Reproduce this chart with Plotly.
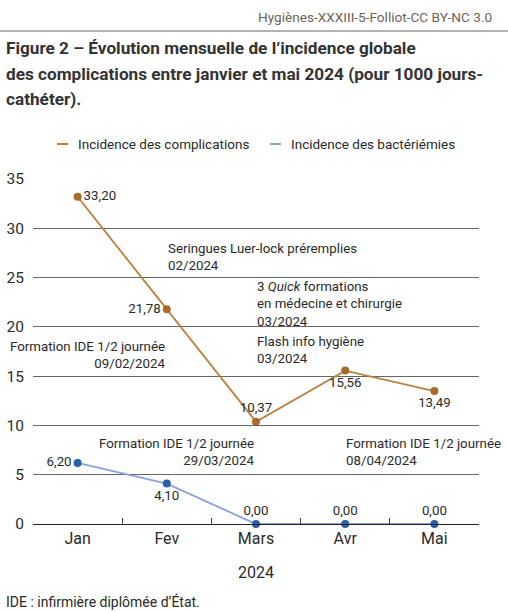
import plotly.graph_objects as go

months = ["Jan", "Fev", "Mars", "Avr", "Mai"]
complications = [33.20, 21.78, 10.37, 15.56, 13.49]
bacteriemies = [6.20, 4.10, 0.00, 0.00, 0.00]
y_ticks = [0, 5, 10, 15, 20, 25, 30, 35]
series_names = ["Incidence des complications", "Incidence des bactériémies"]

def fmt(v):
    return f"{v:.2f}".replace(".", ",")

FONT = "Roboto"
W = 400
TXT = "#2a2a2a"
ORANGE_LINE = "#b98040"
ORANGE_MK = "#a8692a"
BLUE_LINE = "#8aa3dc"
BLUE_MK = "#2a5daa"

def f(size, color=TXT, weight=W):
    return dict(family=FONT, size=size, color=color, weight=weight)

fig = go.Figure()
fig.add_trace(go.Scatter(
    x=months, y=complications, mode="lines+markers+text",
    name=series_names[0], showlegend=False,
    line=dict(color=ORANGE_LINE, width=1.8),
    marker=dict(color=ORANGE_MK, size=8),
    text=[fmt(v) for v in complications],
    textposition=["middle right", "middle left", "top center", "bottom center", "bottom center"],
    textfont=f(13.3),
    cliponaxis=False,
))
fig.add_trace(go.Scatter(
    x=months, y=bacteriemies, mode="lines+markers+text",
    name=series_names[1], showlegend=False,
    line=dict(color=BLUE_LINE, width=1.8),
    marker=dict(color=BLUE_MK, size=8),
    text=[fmt(v) for v in bacteriemies],
    textposition=["middle left", "bottom center", "top center", "top center", "top center"],
    textfont=f(13.3),
    cliponaxis=False,
))

events = [
    dict(x=1, y=28.8, text="Seringues Luer-lock préremplies<br>02/2024", xanchor="left", align="left"),
    dict(x=2, y=24.96, text="3 <i>Quick</i> formations<br>en médecine et chirurgie<br>03/2024", xanchor="left", align="left"),
    dict(x=2, y=19.33, text="Flash info hygiène<br>03/2024", xanchor="left", align="left"),
    dict(x=1, y=18.92, text="Formation IDE 1/2 journée<br>09/02/2024", xanchor="right", align="right"),
    dict(x=2, y=9.08, text="Formation IDE 1/2 journée<br>29/03/2024", xanchor="right", align="right"),
    dict(x=3, y=9.08, text="Formation IDE 1/2 journée<br>08/04/2024", xanchor="left", align="left"),
]
for e in events:
    fig.add_annotation(x=e["x"], y=e["y"], xref="x", yref="y", text=e["text"],
                       xanchor=e["xanchor"], yanchor="top", align=e["align"],
                       showarrow=False, font=f(13.3), borderpad=0)

# Header, title, legend, footer (paper coords; plot area 33..479 px wide, 179..524 px tall)
def px_x(px):
    return (px - 33) / 446

def px_y(py):
    return (524 - py) / 345

fig.add_annotation(x=px_x(494), y=px_y(17), xref="paper", yref="paper",
                   text="Hygiènes-XXXIII-5-Folliot-CC BY-NC 3.0", showarrow=False,
                   xanchor="right", yanchor="middle", font=f(13.6, "#6e6358"))
fig.add_shape(type="line", xref="paper", yref="paper", x0=px_x(0), x1=px_x(508),
              y0=px_y(31), y1=px_y(31), line=dict(color="#9a9a9a", width=1.5))
title_lines = [
    "Figure 2 – Évolution mensuelle de l’incidence globale",
    "des complications entre janvier et mai 2024 (pour 1000 jours-",
    "cathéter).",
]
for i, t in enumerate(title_lines):
    fig.add_annotation(x=px_x(4), y=px_y(48 + 25.5 * i), xref="paper", yref="paper",
                       text=t, showarrow=False, xanchor="left", yanchor="middle",
                       font=f(17.2, "#333333", 700))

# legend (short line swatches)
legend_items = [(57, 76, ORANGE_LINE, series_names[0]), (270, 289, BLUE_LINE, series_names[1])]
for lx, tx, col, name in legend_items:
    fig.add_shape(type="line", xref="paper", yref="paper", x0=px_x(lx), x1=px_x(lx + 11),
                  y0=px_y(144), y1=px_y(144), line=dict(color=col, width=2))
    fig.add_annotation(x=px_x(tx), y=px_y(144), xref="paper", yref="paper", text=name,
                       showarrow=False, xanchor="left", yanchor="middle", font=f(13.5))

fig.add_annotation(x=0.5, y=px_y(572), xref="paper", yref="paper", text="2024",
                   showarrow=False, xanchor="center", yanchor="middle", font=f(16))
fig.add_annotation(x=px_x(4), y=px_y(601), xref="paper", yref="paper",
                   text="IDE : infirmière diplômée d’État.", showarrow=False,
                   xanchor="left", yanchor="middle", font=f(14))

fig.update_layout(
    width=508, height=612,
    margin=dict(l=33, r=29, t=179, b=88, autoexpand=False),
    paper_bgcolor="white", plot_bgcolor="white",
    font=f(14),
    showlegend=False,
    xaxis=dict(type="category", range=[-0.5, 4.5], showgrid=False,
               showline=True, linecolor="#222222", linewidth=1.2,
               ticks="inside", ticklen=6, tickcolor="#444444", tickson="boundaries",
               tickfont=f(16), fixedrange=True),
    yaxis=dict(range=[0, 35], tickvals=y_ticks, showgrid=True, gridcolor="#666666",
               gridwidth=1, zeroline=False, showline=False, ticks="",
               tickfont=f(15.5), ticklabelstandoff=8, fixedrange=True),
)

fig.write_html("out.html", config={"displayModeBar": False},
               post_script="document.body.style.margin='0px';")
